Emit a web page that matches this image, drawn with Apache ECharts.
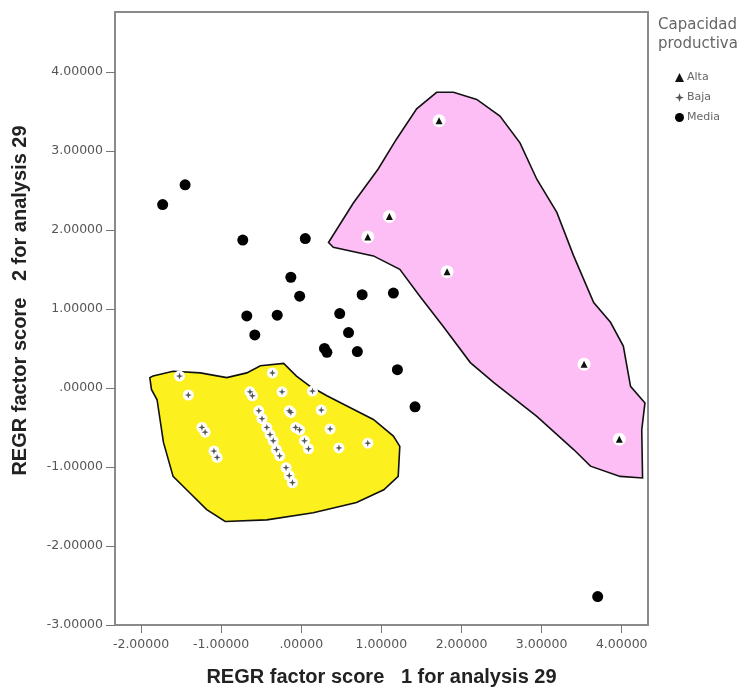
<!DOCTYPE html>
<html>
<head>
<meta charset="utf-8">
<script src="https://cdn.jsdelivr.net/npm/echarts@6/dist/echarts.min.js"></script>
<style>
  html, body { margin: 0; padding: 0; background: #fff; }
  #chart { width: 745px; height: 687px; }
</style>
</head>
<body>
<div id="chart"></div>
<script>
// tick positions shown on both axes
const xTicks = [-2, -1, 0, 1, 2, 3, 4]
const yTicks = [-3, -2, -1, 0, 1, 2, 3, 4]

// factor scores per group [score 1, score 2]
const alta = [
  [1.72, 3.38], [1.10, 2.17], [0.83, 1.91], [1.82, 1.47],
  [3.53, 0.30], [3.97, -0.65]
]
const baja = [
  [-1.52, 0.15], [-1.41, -0.09], [-1.24, -0.50], [-1.20, -0.56],
  [-1.09, -0.80], [-1.05, -0.88], [-0.36, 0.19], [-0.64, -0.05],
  [-0.61, -0.10], [-0.24, -0.05], [0.14, -0.04], [0.25, -0.28],
  [0.36, -0.52], [0.47, -0.76], [0.83, -0.70], [-0.15, -0.29],
  [-0.13, -0.31], [-0.07, -0.50], [-0.02, -0.53], [0.04, -0.67],
  [0.09, -0.77], [-0.53, -0.29], [-0.49, -0.39], [-0.43, -0.50],
  [-0.39, -0.59], [-0.35, -0.67], [-0.31, -0.78], [-0.27, -0.86],
  [-0.19, -1.01], [-0.15, -1.11], [-0.11, -1.20]
]
const media = [
  [-1.45, 2.57], [-1.73, 2.32], [-0.73, 1.87], [0.05, 1.89],
  [-0.13, 1.40], [-0.02, 1.16], [0.76, 1.18], [1.15, 1.20],
  [-0.68, 0.91], [-0.30, 0.92], [-0.58, 0.67], [0.48, 0.94],
  [0.59, 0.70], [0.29, 0.50], [0.32, 0.45], [0.70, 0.46],
  [1.20, 0.23], [1.42, -0.24], [3.70, -2.64]
]

// hand-drawn group outlines, in factor-score units
const hullAlta = [
  [0.34, 1.84], [0.65, 2.34], [0.96, 2.77], [1.19, 3.15], [1.44, 3.53],
  [1.69, 3.74], [1.90, 3.74], [2.19, 3.65], [2.48, 3.44], [2.73, 3.10],
  [2.94, 2.64], [3.19, 2.22], [3.40, 1.67], [3.65, 1.08], [3.86, 0.83],
  [4.02, 0.53], [4.11, 0.02], [4.29, -0.19], [4.25, -0.53], [4.26, -1.14],
  [3.98, -1.12], [3.61, -0.99], [3.40, -0.78], [2.94, -0.36], [2.40, 0.07],
  [2.11, 0.32], [1.77, 0.78], [1.48, 1.16], [1.23, 1.50], [0.90, 1.67],
  [0.40, 1.78]
]
const hullBaja = [
  [-1.89, 0.13], [-1.85, 0.15], [-1.60, 0.21], [-1.26, 0.19], [-0.93, 0.13],
  [-0.68, 0.19], [-0.51, 0.28], [-0.22, 0.31], [-0.06, 0.15], [0.11, 0.02],
  [0.32, -0.10], [0.57, -0.23], [0.90, -0.40], [1.15, -0.61], [1.23, -0.74],
  [1.21, -1.12], [1.03, -1.29], [0.69, -1.45], [0.15, -1.58], [-0.43, -1.67],
  [-0.95, -1.69], [-1.18, -1.54], [-1.39, -1.33], [-1.60, -1.12], [-1.72, -0.69],
  [-1.80, -0.15], [-1.87, -0.02]
]

const hulls = [
  { pts: hullBaja, fill: '#fcf01e' },
  { pts: hullAlta, fill: '#fdbdf5' }
]

const chart = echarts.init(document.getElementById('chart'))

const fmt = function (v) {
  return v === 0 ? '.00000' : v.toFixed(5)
}
const labelFont = 'DejaVu Sans, sans-serif'
const titleFont = 'Liberation Sans, Arial, sans-serif'
const starPath = 'path://M0,-10 L2.5,-2.5 L10,0 L2.5,2.5 L0,10 L-2.5,2.5 L-10,0 L-2.5,-2.5 Z'

const options = {
  animation: false,
  title: {
    text: 'Capacidad\nproductiva',
    left: 653,
    top: 11,
    textStyle: {
      fontFamily: labelFont,
      fontSize: 15,
      fontWeight: 'normal',
      color: '#666',
      lineHeight: 19
    }
  },
  legend: {
    data: ['Alta', 'Baja', 'Media'],
    orient: 'vertical',
    left: 670,
    top: 67,
    itemWidth: 9,
    itemHeight: 9,
    itemGap: 9,
    textStyle: { fontFamily: labelFont, fontSize: 11, color: '#666', padding: [0, 0, 0, -2] }
  },
  grid: {
    left: 115,
    right: 97,
    top: 12,
    bottom: 62,
    outerBoundsMode: 'none',
    show: true,
    borderColor: '#8a8a8a',
    borderWidth: 2
  },
  xAxis: {
    type: 'value',
    min: -2.325,
    max: 4.328,
    name: 'REGR factor score   1 for analysis 29',
    nameLocation: 'middle',
    nameGap: 42,
    nameTextStyle: { fontFamily: titleFont, fontSize: 20, fontWeight: 'bold', color: '#222' },
    axisLine: { show: true, onZero: false, lineStyle: { color: '#8a8a8a', width: 2 } },
    axisTick: { show: true, customValues: xTicks, length: 8, lineStyle: { color: '#777' } },
    axisLabel: { customValues: xTicks, formatter: fmt, margin: 13, fontFamily: labelFont, fontSize: 12.5, color: '#555' },
    splitLine: { show: false }
  },
  yAxis: {
    type: 'value',
    min: -3,
    max: 4.756,
    name: 'REGR factor score   2 for analysis 29',
    nameLocation: 'middle',
    nameGap: 85,
    nameTextStyle: {
      fontFamily: titleFont, fontSize: 20, fontWeight: 'bold', color: '#222',
      padding: [0, 0, 0, 36]
    },
    axisLine: { show: true, onZero: false, lineStyle: { color: '#8a8a8a', width: 2 } },
    axisTick: { show: true, customValues: yTicks, length: 9, lineStyle: { color: '#777' } },
    axisLabel: { customValues: yTicks, formatter: fmt, margin: 12, fontFamily: labelFont, fontSize: 12.5, color: '#555' },
    splitLine: { show: false }
  },
  series: [
    {
      type: 'custom',
      name: 'hulls',
      silent: true,
      z: 1,
      data: hulls.map(function (h, i) { return [i] }),
      renderItem: function (params, api) {
        const h = hulls[params.dataIndex]
        return {
          type: 'polygon',
          shape: { points: h.pts.map(function (p) { return api.coord(p) }) },
          style: { fill: h.fill, stroke: '#111', lineWidth: 1.6 }
        }
      }
    },
    {
      type: 'scatter',
      name: 'haloAlta',
      silent: true,
      z: 3,
      symbol: 'circle',
      symbolSize: 13,
      itemStyle: { color: '#fff', opacity: 1 },
      data: alta
    },
    {
      type: 'scatter',
      name: 'haloBaja',
      silent: true,
      z: 3,
      symbol: 'circle',
      symbolSize: 11,
      itemStyle: { color: '#fff', opacity: 1 },
      data: baja
    },
    {
      type: 'scatter',
      name: 'Alta',
      z: 4,
      symbol: 'triangle',
      symbolSize: 7,
      itemStyle: { color: '#111', opacity: 1 },
      data: alta
    },
    {
      type: 'scatter',
      name: 'Baja',
      z: 4,
      symbol: starPath,
      symbolSize: 7,
      itemStyle: { color: '#555', opacity: 1 },
      data: baja
    },
    {
      type: 'scatter',
      name: 'Media',
      z: 4,
      symbol: 'circle',
      symbolSize: 11,
      itemStyle: { color: '#000', opacity: 1 },
      data: media
    }
  ]
}

chart.setOption(options)

window.addEventListener('resize', chart.resize)
</script>
</body>
</html>
